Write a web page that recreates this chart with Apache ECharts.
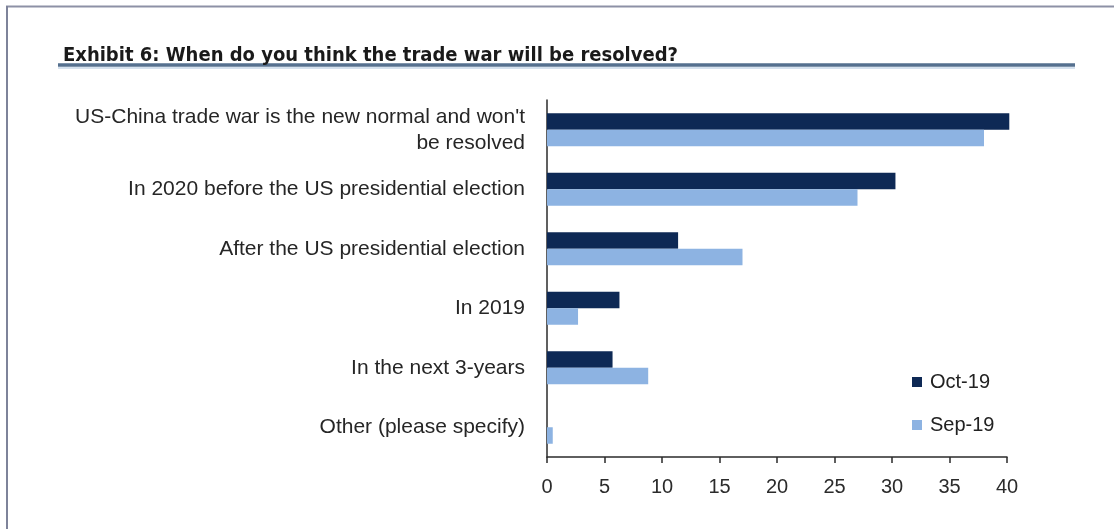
<!DOCTYPE html>
<html>
<head>
<meta charset="utf-8">
<script src="https://cdn.jsdelivr.net/npm/echarts@6/dist/echarts.min.js"></script>
<style>
  html, body {
    margin: 0;
    padding: 0;
    background: #ffffff;
  }

  #trade-war-chart {
    width: 1114px;
    height: 529px;
  }
</style>
</head>
<body>
<div id="trade-war-chart"></div>
<script>
const categories = [
  "US-China trade war is the new normal and won't\nbe resolved",
  'In 2020 before the US presidential election',
  'After the US presidential election',
  'In 2019',
  'In the next 3-years',
  'Other (please specify)'
]
const seriesNames = ['Oct-19', 'Sep-19']
const oct19 = [40.2, 30.3, 11.4, 6.3, 5.7, 0]
const sep19 = [38, 27, 17, 2.7, 8.8, 0.5]
const axisTicks = [0, 5, 10, 15, 20, 25, 30, 35, 40]

const chart = echarts.init(document.getElementById('trade-war-chart'))

const option = {
  animation: false,
  title: {
    text: 'Exhibit 6: When do you think the trade war will be resolved?',
    left: 58,
    top: 41,
    textStyle: {
      fontFamily: "'DejaVu Sans Condensed', 'Liberation Sans', sans-serif",
      fontWeight: 'bold',
      fontSize: 20,
      color: '#1a1a1a'
    }
  },
  legend: {
    orient: 'vertical',
    left: 907,
    top: 367,
    icon: 'rect',
    itemWidth: 10,
    itemHeight: 10,
    itemGap: 23,
    textStyle: {
      fontFamily: 'Liberation Sans',
      fontSize: 20,
      color: '#222222',
      padding: [0, 0, 0, 3]
    },
    data: seriesNames
  },
  grid: {
    top: 100,
    left: 547,
    right: 107,
    bottom: 72,
    containLabel: false
  },
  xAxis: {
    type: 'value',
    min: axisTicks[0],
    max: axisTicks[axisTicks.length - 1],
    interval: axisTicks[1] - axisTicks[0],
    splitLine: {
      show: false
    },
    axisLine: {
      show: true,
      lineStyle: {
        color: '#2b2b2b',
        width: 1.5
      }
    },
    axisTick: {
      show: true,
      length: 6,
      lineStyle: {
        color: '#2b2b2b',
        width: 1.5
      }
    },
    axisLabel: {
      margin: 20,
      fontFamily: 'Liberation Sans',
      fontSize: 20,
      color: '#2b2b2b'
    }
  },
  yAxis: {
    type: 'category',
    inverse: true,
    data: categories,
    axisLine: {
      lineStyle: {
        color: '#2b2b2b',
        width: 1.5
      }
    },
    axisTick: {
      length: 6,
      lineStyle: {
        color: '#2b2b2b',
        width: 1.5
      }
    },
    axisLabel: {
      margin: 22,
      fontFamily: 'Liberation Sans',
      fontSize: 21,
      lineHeight: 26,
      color: '#262626',
      align: 'right'
    }
  },
  series: [
    {
      name: seriesNames[0],
      type: 'bar',
      data: oct19,
      barWidth: 16.5,
      barGap: '0%',
      clip: false,
      itemStyle: {
        color: '#0e2955'
      }
    },
    {
      name: seriesNames[1],
      type: 'bar',
      data: sep19,
      barWidth: 16.5,
      barGap: '0%',
      clip: false,
      itemStyle: {
        color: '#8db3e2'
      }
    }
  ],
  graphic: [
    // frame lines top and left
    {
      type: 'line',
      shape: {x1: 6, y1: 6.5, x2: 1114, y2: 6.5},
      style: {stroke: '#8d91a6', lineWidth: 2}
    },
    {
      type: 'line',
      shape: {x1: 7, y1: 6, x2: 7, y2: 529},
      style: {stroke: '#7e839a', lineWidth: 2}
    },
    // title underline
    {
      type: 'line',
      shape: {x1: 58, y1: 65, x2: 1075, y2: 65},
      style: {stroke: '#55708f', lineWidth: 3.5}
    },
    {
      type: 'line',
      shape: {x1: 58, y1: 68, x2: 1075, y2: 68},
      style: {stroke: '#d6e2ef', lineWidth: 2}
    }
  ]
}

chart.setOption(option)
</script>
</body>
</html>
